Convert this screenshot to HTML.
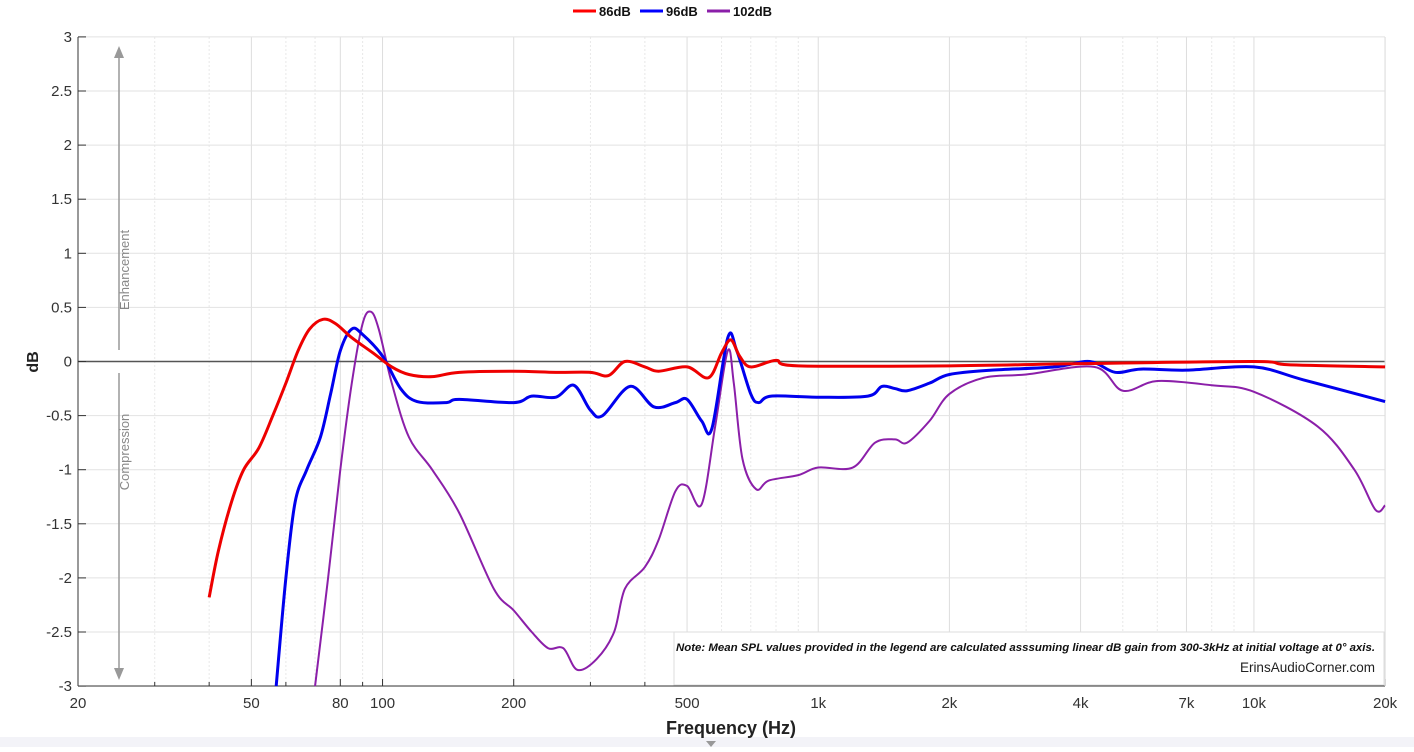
<!DOCTYPE html>
<html><head><meta charset="utf-8"><style>
body{margin:0;background:#fff;width:1414px;height:747px;overflow:hidden;font-family:"Liberation Sans",Arial,sans-serif}
</style></head><body>
<svg id="s" width="1414" height="747" xmlns="http://www.w3.org/2000/svg" font-family="Liberation Sans, Arial, sans-serif">
<rect x="0" y="737" width="1414" height="10" fill="#f3f3f8"/>
<polygon points="706,741 716,741 711,747" fill="#999"/>
<g id="grid"></g>
<line x1="78" y1="361.5" x2="1385" y2="361.5" stroke="#555" stroke-width="1.5"/>
<g id="axes"></g>
<g id="series" fill="none" stroke-width="3" stroke-linejoin="round"></g>
<line x1="119" y1="350" x2="119" y2="56" stroke="#999" stroke-width="1.5"/>
<polygon points="119,46 114,58 124,58" fill="#999"/>
<line x1="119" y1="373" x2="119" y2="670" stroke="#999" stroke-width="1.5"/>
<polygon points="119,680 114,668 124,668" fill="#999"/>
<text transform="translate(129,270) rotate(-90)" text-anchor="middle" font-size="13" fill="#888">Enhancement</text>
<text transform="translate(129,452) rotate(-90)" text-anchor="middle" font-size="13" fill="#888">Compression</text>
<rect x="674" y="632" width="710" height="53" fill="#fff" stroke="#ddd"/>
<text x="676" y="651" textLength="699" lengthAdjust="spacingAndGlyphs" font-size="11" font-weight="bold" font-style="italic" fill="#111">Note: Mean SPL values provided in the legend are calculated asssuming linear dB gain from 300-3kHz at initial voltage at 0° axis.</text>
<text x="1375" y="672" text-anchor="end" font-size="13.5" fill="#222">ErinsAudioCorner.com</text>
<text x="731" y="734" text-anchor="middle" font-size="18" font-weight="bold" fill="#222">Frequency (Hz)</text>
<text transform="translate(38,362) rotate(-90)" text-anchor="middle" font-size="16" font-weight="bold" fill="#222">dB</text>
<g font-size="13" font-weight="bold" fill="#111">
<line x1="573" y1="11" x2="596" y2="11" stroke="#f00" stroke-width="3"/><text x="599" y="16">86dB</text>
<line x1="640" y1="11" x2="663" y2="11" stroke="#00f" stroke-width="3"/><text x="666" y="16">96dB</text>
<line x1="707" y1="11" x2="730" y2="11" stroke="#8b1fa9" stroke-width="3"/><text x="733" y="16">102dB</text>
</g>
</svg>
<script>
const X=f=>78+435.7*Math.log10(f/20), Y=d=>361.5-108.2*d;
const NS="http://www.w3.org/2000/svg";
function el(p,t,a,txt){const e=document.createElementNS(NS,t);for(const k in a)e.setAttribute(k,a[k]);if(txt)e.textContent=txt;p.appendChild(e);return e;}
const g=document.getElementById('grid'),ax=document.getElementById('axes');
const majors=[20,50,80,100,200,500,1000,2000,4000,7000,10000,20000];
for(let dec=10;dec<=10000;dec*=10)for(let m=1;m<10;m++){const f=dec*m;if(f<20||f>20000)continue;const x=X(f);
 const maj=majors.includes(f);
 el(g,'line',{x1:x,y1:37,x2:x,y2:686,stroke:maj?'#ddd':'#e8e8e8','stroke-dasharray':maj?'':'2,2'});
 el(ax,'line',{x1:x,y1:686,x2:x,y2:maj?679:682,stroke:'#333'});}
for(let d=-3;d<=3;d+=0.5){const y=Y(d);el(g,'line',{x1:78,y1:y,x2:1385,y2:y,stroke:'#e2e2e2'});
 el(ax,'line',{x1:78,y1:y,x2:86,y2:y,stroke:'#333'});
 el(ax,'text',{x:72,y:y+5,'text-anchor':'end','font-size':15,fill:'#333'},String(d));}
el(ax,'line',{x1:78,y1:37,x2:78,y2:686,stroke:'#333'});
el(ax,'line',{x1:78,y1:686,x2:1385,y2:686,stroke:'#333'});
el(ax,'line',{x1:1385,y1:37,x2:1385,y2:686,stroke:'#ddd'});
const lab=['20','50','80','100','200','500','1k','2k','4k','7k','10k','20k'];
majors.forEach((f,i)=>el(ax,'text',{x:X(f),y:708,'text-anchor':'middle','font-size':15,fill:'#333'},lab[i]));
const red=[[40,-2.18],[42,-1.75],[45,-1.3],[48,-1.0],[52,-0.8],[56,-0.5],[60,-0.2],[64,0.1],[68,0.3],[73,0.39],[78,0.35],[85,0.22],[95,0.08],[105,-0.05],[115,-0.12],[130,-0.14],[150,-0.1],[200,-0.09],[250,-0.1],[300,-0.1],[330,-0.13],[360,0.0],[400,-0.05],[430,-0.09],[500,-0.05],[560,-0.15],[600,0.08],[630,0.2],[660,0.05],[700,-0.05],[800,0.01],[900,-0.04],[2000,-0.04],[4000,-0.02],[10000,0],[12000,-0.03],[20000,-0.05]];
const blue=[[57,-3],[60,-2.0],[63,-1.3],[67,-1.0],[72,-0.7],[76,-0.3],[80,0.1],[85,0.3],[90,0.25],[100,0.05],[110,-0.25],[120,-0.37],[140,-0.38],[150,-0.35],[200,-0.38],[220,-0.32],[250,-0.33],[275,-0.22],[300,-0.45],[320,-0.5],[370,-0.23],[420,-0.42],[470,-0.38],[500,-0.35],[540,-0.55],[570,-0.62],[620,0.22],[650,0.1],[700,-0.3],[730,-0.38],[780,-0.32],[1000,-0.33],[1300,-0.32],[1400,-0.23],[1500,-0.25],[1600,-0.27],[1800,-0.2],[2000,-0.12],[2500,-0.08],[3500,-0.05],[4200,0.0],[4800,-0.1],[5500,-0.07],[7000,-0.08],[10000,-0.05],[13000,-0.17],[20000,-0.37]];
const pur=[[70,-3],[75,-2],[80,-1],[85,-0.2],[90,0.35],[94,0.46],[98,0.3],[105,-0.2],[115,-0.7],[130,-1.0],[150,-1.4],[180,-2.1],[200,-2.3],[220,-2.5],[240,-2.65],[260,-2.65],[280,-2.85],[310,-2.75],[340,-2.5],[360,-2.1],[400,-1.9],[430,-1.65],[470,-1.2],[500,-1.15],[540,-1.32],[580,-0.6],[620,0.1],[640,-0.2],[670,-0.9],[720,-1.18],[770,-1.1],[900,-1.05],[1000,-0.98],[1200,-0.98],[1350,-0.75],[1500,-0.72],[1600,-0.75],[1800,-0.55],[2000,-0.3],[2400,-0.15],[3000,-0.12],[4300,-0.05],[5000,-0.27],[6000,-0.18],[8000,-0.22],[10000,-0.28],[14000,-0.6],[17000,-1.0],[19000,-1.37],[20000,-1.33]];
const s=document.getElementById('series');
function path(pts){const P=pts.map(p=>[X(p[0]),Y(p[1])]);let d='M'+P[0][0]+','+P[0][1];
 for(let i=0;i<P.length-1;i++){const p0=P[i-1]||P[i],p1=P[i],p2=P[i+1],p3=P[i+2]||p2;
 d+=`C${p1[0]+(p2[0]-p0[0])/6},${p1[1]+(p2[1]-p0[1])/6} ${p2[0]-(p3[0]-p1[0])/6},${p2[1]-(p3[1]-p1[1])/6} ${p2[0]},${p2[1]}`;}return d;}
el(s,'path',{d:path(pur),stroke:'#8b1fa9','stroke-width':2});
el(s,'path',{d:path(blue),stroke:'#0000ee'});
el(s,'path',{d:path(red),stroke:'#ee0000'});
</script>
</body></html>
